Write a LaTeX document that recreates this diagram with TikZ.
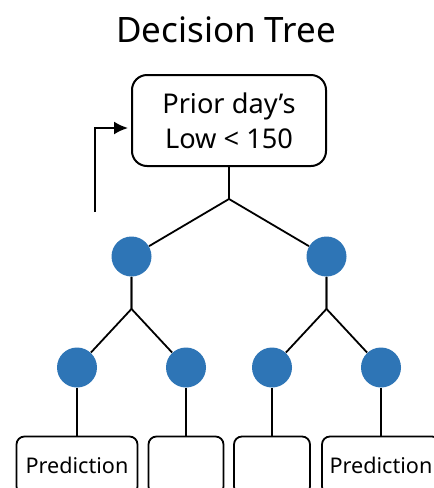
\documentclass[tikz,border=0pt]{standalone}
\usepackage{fontspec}
\setmainfont{Noto Sans}
\usetikzlibrary{arrows.meta}

\definecolor{dotblue}{HTML}{2E75B6}

\begin{document}
\begin{tikzpicture}[x = 0.5pt, y = -0.5pt, grow = down,
    level 1/.style = {level distance = 68pt, sibling distance = 97.5pt},
    level 2/.style = {level distance = 55.5pt, sibling distance = 54.5pt},
    level 3/.style = {level distance = 49pt,
        edge from parent path = {(\tikzparentnode) -- (\tikzchildnode)}},
    edge from parent path = {(\tikzparentnode.south) -- ++(0,-16pt) -- (\tikzchildnode)},
    edge from parent/.style = {draw, line width = 0.9pt},
    rootbox/.style = {draw, line width = 1pt, rounded corners = 7.5pt, align = center,
        minimum width = 97pt, minimum height = 45.5pt, inner sep = 2pt,
        font = \fontsize{13.6}{17.5}\selectfont},
    dot/.style = {circle, fill = dotblue, minimum size = 20pt, inner sep = 0pt},
    leafbox/.style = {draw, line width = 0.9pt, rounded corners = 4pt,
        minimum height = 29pt, inner sep = 1pt, font = \fontsize{10.8}{12}\selectfont}]
    \useasboundingbox (0,0) rectangle (434,488);
    \clip (0,0) rectangle (434,488);

    \node (title) at (226,30) {\fontsize{17.5}{21}\selectfont Decision Tree};

    \node[rootbox] (root) at (229,120.5) {Prior day’s\\Low < 150}
        child{ node[dot] (l) {}
            child{ node[dot] (ll) {}
                child{ node[leafbox, minimum width = 60.5pt] (lll) {Prediction} }}
            child{ node[dot] (lr) {}
                child{ node[leafbox, minimum width = 37.5pt] (lrl) {} }}}
        child{ node[dot] (r) {}
            child{ node[dot] (rl) {}
                child{ node[leafbox, minimum width = 38pt] (rll) {} }}
            child{ node[dot] (rr) {}
                child{ node[leafbox, minimum width = 59pt] (rrl) {Prediction} }}};

    \coordinate (start) at (95,212);
    \draw[line width = 1pt, -{Latex[length = 7pt, width = 6.5pt]}, shorten > = 1.5pt]
        (start) |- ([yshift = -3.75pt]root.west);
\end{tikzpicture}
\end{document}
